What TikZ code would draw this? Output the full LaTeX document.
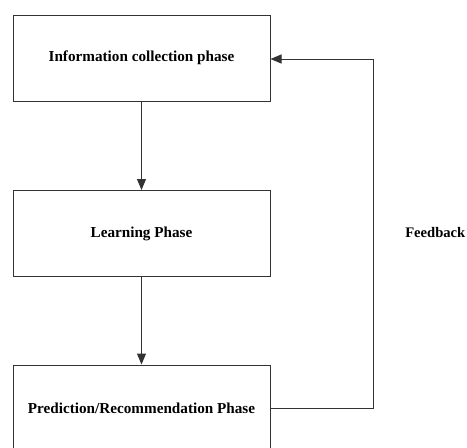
\documentclass[tikz,border=0pt]{standalone}
\usepackage{fontspec}
\setmainfont{Liberation Serif}
\usetikzlibrary{arrows.meta}
\begin{document}
\begin{tikzpicture}[x=1pt,y=-1pt,
  phasebox/.style={draw=black!80, line width=1pt, minimum width=257pt, minimum height=86pt, inner sep=0pt, font=\bfseries\fontsize{15.2}{17}\selectfont},
  flow/.style={draw=black!80, line width=1pt, -{Triangle[length=11pt,width=9pt]}},
  lbl/.style={font=\bfseries\fontsize{14.6}{17}\selectfont, inner sep=0pt}]
\useasboundingbox (0,0) rectangle (467,448);
\clip (0,0) rectangle (467,448);
\node[phasebox] (info) at (141.5,58) {Information collection phase};
\node[phasebox] (learn) at (141.5,233.5) {Learning Phase};
\node[phasebox] (pred) at (141.5,408) {Prediction/Recommendation Phase};
\coordinate (c1) at (373,408);
\coordinate (c2) at (373,59);
\draw[flow] (info) -- (learn);
\draw[flow] (learn) -- (pred);
\draw[flow] (pred.east) -- (c1) -- (c2) -- (info.east |- c2);
\node[lbl, anchor=east] (fb) at (465.5,233) {Feedback};
\end{tikzpicture}
\end{document}
